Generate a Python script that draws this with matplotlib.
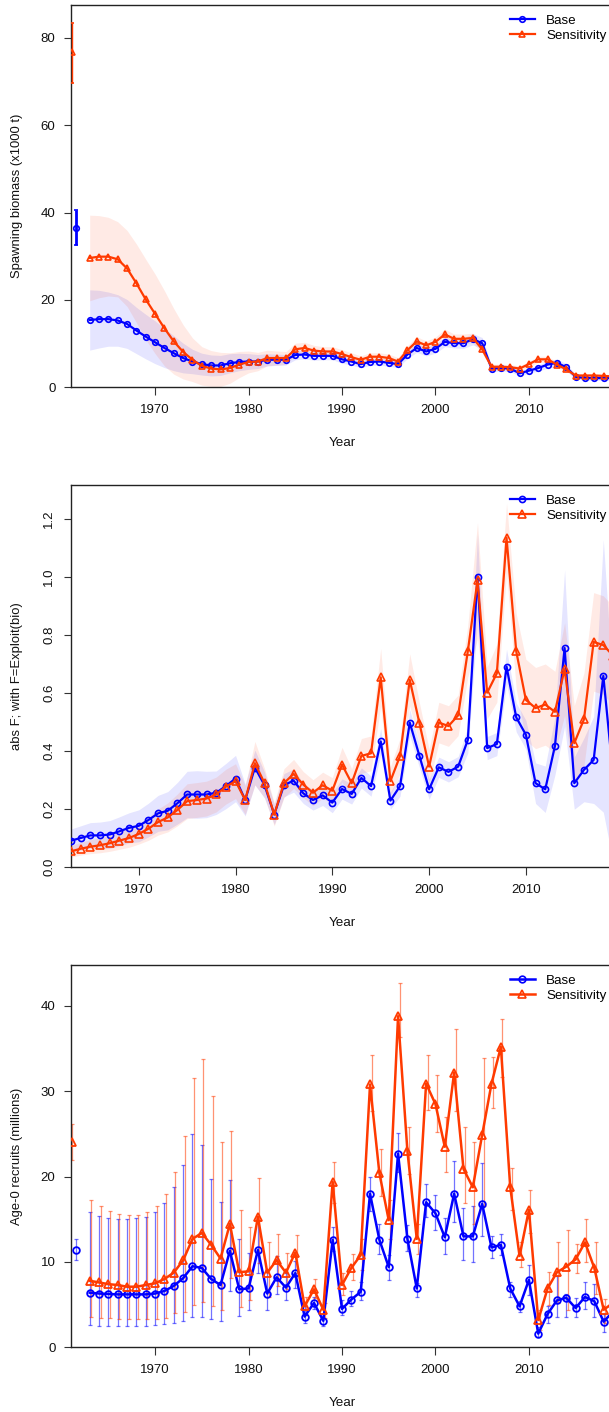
import matplotlib
matplotlib.use("Agg")
import matplotlib.pyplot as plt
from matplotlib.lines import Line2D
import numpy as np

plt.rcParams['font.family'] = ['Liberation Sans', 'DejaVu Sans']

# ---------------- data ----------------
years = list(range(1963, 2020))
virgin_year = 1961

# Spawning biomass (x1000 t)
ssb_base = [15.4, 15.6, 15.6, 15.3, 14.5, 13.0, 11.6, 10.3, 9.0, 7.8,
            6.7, 5.9, 5.3, 5.0, 5.0, 5.5, 5.8, 5.9, 5.9, 6.3,
            6.3, 6.3, 7.4, 7.5, 7.2, 7.2, 7.2, 6.4, 5.9, 5.3,
            5.8, 5.9, 5.6, 5.3, 7.5, 9.0, 8.2, 8.8, 10.4, 10.1,
            10.1, 11.0, 10.1, 4.3, 4.4, 4.3, 3.2, 3.8, 4.4, 5.2,
            5.6, 4.6, 2.4, 2.1, 2.1, 2.1, 2.1]
ssb_sens = [29.6, 29.9, 29.9, 29.3, 27.2, 23.8, 20.1, 16.8, 13.5, 10.5,
            8.1, 6.3, 4.9, 4.3, 4.1, 4.4, 5.2, 5.8, 5.9, 6.7,
            6.7, 6.7, 8.7, 9.0, 8.4, 8.2, 8.2, 7.6, 6.9, 6.3,
            7.0, 7.0, 6.7, 5.9, 8.5, 10.5, 9.6, 10.4, 12.1, 11.1,
            11.1, 11.3, 8.7, 4.7, 4.7, 4.6, 4.3, 5.3, 6.4, 6.4,
            5.2, 4.1, 2.7, 2.7, 2.7, 2.6, 2.5]
ssb_base_hw = [6.9, 6.6, 6.2, 5.9, 5.6, 5.3, 5.1, 4.9, 4.5, 4.0,
               3.4, 2.8, 2.5, 2.4, 2.3, 2.2, 2.0, 1.8, 1.6, 1.4,
               1.3, 1.2, 1.1, 1.0, 1.0, 0.9, 0.9, 0.9, 0.8, 0.8,
               0.8, 0.8, 0.8, 0.8, 0.9, 1.0, 1.0, 1.0, 1.1, 1.1,
               1.2, 1.3, 1.3, 0.7, 0.7, 0.7, 0.6, 0.6, 0.7, 0.8,
               0.9, 0.8, 0.5, 0.5, 0.5, 0.5, 0.5]
ssb_sens_hw = [9.8, 9.4, 9.0, 8.6, 8.7, 9.0, 9.2, 9.1, 8.6, 7.5,
               6.2, 5.0, 4.4, 4.1, 3.9, 3.5, 3.0, 2.5, 2.1, 1.8,
               1.6, 1.5, 1.4, 1.3, 1.2, 1.1, 1.1, 1.0, 1.0, 0.9,
               0.9, 0.9, 0.9, 0.9, 1.0, 1.1, 1.0, 1.1, 1.2, 1.1,
               1.1, 1.1, 0.9, 0.6, 0.6, 0.6, 0.6, 0.6, 0.7, 0.7,
               0.6, 0.5, 0.4, 0.4, 0.4, 0.4, 0.4]
ssb_virgin = [36.5, 76.7]
ssb_virgin_lo = [32.6, 69.7]
ssb_virgin_hi = [40.6, 83.4]

# Fishing mortality
f_base = [0.092, 0.101, 0.110, 0.110, 0.113, 0.124, 0.136, 0.143, 0.163, 0.186,
          0.195, 0.221, 0.251, 0.251, 0.251, 0.257, 0.280, 0.306, 0.232, 0.344,
          0.283, 0.182, 0.283, 0.299, 0.255, 0.232, 0.248, 0.223, 0.270, 0.253,
          0.308, 0.280, 0.434, 0.230, 0.280, 0.499, 0.384, 0.269, 0.345, 0.329,
          0.347, 0.439, 1.002, 0.411, 0.425, 0.692, 0.517, 0.457, 0.290, 0.269,
          0.418, 0.756, 0.290, 0.336, 0.370, 0.660, 0.320]
f_sens = [0.055, 0.064, 0.071, 0.076, 0.083, 0.092, 0.101, 0.115, 0.133, 0.156,
          0.172, 0.198, 0.228, 0.232, 0.237, 0.251, 0.278, 0.297, 0.232, 0.359,
          0.290, 0.182, 0.290, 0.322, 0.285, 0.257, 0.283, 0.264, 0.354, 0.290,
          0.384, 0.393, 0.655, 0.297, 0.384, 0.646, 0.497, 0.347, 0.499, 0.487,
          0.524, 0.745, 0.989, 0.602, 0.669, 1.136, 0.745, 0.577, 0.549, 0.561,
          0.536, 0.683, 0.428, 0.510, 0.777, 0.766, 0.730]
f_base_hw = [0.040, 0.042, 0.044, 0.046, 0.048, 0.050, 0.052, 0.055, 0.058, 0.062,
             0.066, 0.072, 0.080, 0.082, 0.080, 0.075, 0.078, 0.080, 0.055, 0.060,
             0.045, 0.035, 0.040, 0.040, 0.035, 0.035, 0.035, 0.035, 0.035, 0.035,
             0.035, 0.035, 0.045, 0.030, 0.035, 0.045, 0.040, 0.035, 0.035, 0.035,
             0.035, 0.045, 0.150, 0.040, 0.040, 0.060, 0.050, 0.050, 0.070, 0.080,
             0.100, 0.270, 0.090, 0.110, 0.150, 0.470, 0.300]
f_sens_hw = [0.020, 0.022, 0.024, 0.026, 0.028, 0.030, 0.032, 0.035, 0.040, 0.045,
             0.050, 0.055, 0.060, 0.060, 0.060, 0.060, 0.060, 0.060, 0.050, 0.075,
             0.050, 0.040, 0.050, 0.050, 0.045, 0.045, 0.045, 0.045, 0.060, 0.050,
             0.060, 0.060, 0.100, 0.050, 0.060, 0.090, 0.070, 0.060, 0.070, 0.070,
             0.070, 0.090, 0.200, 0.090, 0.100, 0.120, 0.130, 0.140, 0.140, 0.140,
             0.140, 0.160, 0.130, 0.160, 0.170, 0.170, 0.170]

# Age-0 recruits (millions)
rec_base = [6.4, 6.3, 6.25, 6.2, 6.2, 6.2, 6.2, 6.3, 6.6, 7.2,
            8.1, 9.5, 9.3, 8.0, 7.3, 11.3, 6.8, 6.9, 11.4, 6.3,
            8.2, 7.0, 8.7, 3.6, 5.2, 3.1, 12.6, 4.5, 5.6, 6.5,
            18.0, 12.6, 9.4, 22.7, 12.7, 6.9, 17.0, 15.7, 12.9, 18.0,
            13.0, 13.0, 16.8, 11.7, 12.0, 6.9, 4.8, 7.9, 1.6, 3.9,
            5.5, 5.8, 4.6, 5.9, 5.4, 3.0, 4.2]
rec_base_lo = [2.6, 2.5, 2.5, 2.5, 2.5, 2.5, 2.5, 2.6, 2.7, 2.9,
               3.1, 3.6, 3.6, 3.3, 3.1, 6.6, 3.7, 4.4, 8.7, 4.4,
               6.25, 5.5, 7.0, 2.9, 4.45, 2.5, 11.25, 3.75, 4.8, 5.5,
               16.0, 10.9, 7.9, 20.5, 11.25, 5.9, 15.3, 13.75, 10.9, 14.7,
               10.2, 10.0, 13.0, 10.5, 10.8, 5.9, 4.1, 6.1, 1.2, 2.8,
               3.6, 3.6, 3.6, 4.5, 3.6, 1.8, 3.0]
rec_base_hi = [15.8, 15.4, 15.2, 15.0, 15.0, 15.1, 15.3, 15.9, 16.9, 18.8,
               21.4, 25.0, 23.7, 19.7, 17.0, 19.6, 12.7, 11.1, 14.8, 9.1,
               10.7, 8.75, 10.1, 4.8, 5.9, 3.9, 14.1, 5.5, 6.6, 7.7,
               20.0, 14.4, 10.8, 25.1, 14.3, 7.5, 19.1, 17.8, 15.2, 21.8,
               16.3, 16.6, 21.6, 13.0, 13.3, 7.7, 5.4, 9.7, 2.4, 4.8,
               8.3, 6.3, 5.8, 7.7, 7.4, 3.9, 5.8]
rec_sens = [7.8, 7.6, 7.4, 7.3, 7.1, 7.1, 7.3, 7.5, 8.0, 8.75,
            10.2, 12.7, 13.4, 12.0, 10.4, 14.45, 8.8, 8.9, 15.3, 8.75,
            10.2, 8.75, 11.1, 4.8, 6.8, 4.4, 19.4, 7.3, 9.3, 10.8,
            30.8, 20.4, 14.9, 38.8, 23.0, 12.7, 30.9, 28.5, 23.5, 32.2,
            20.9, 18.75, 24.9, 30.9, 35.2, 18.8, 10.7, 16.1, 3.2, 6.9,
            8.8, 9.45, 10.3, 12.3, 9.3, 4.4, 5.2]
rec_sens_lo = [3.5, 3.4, 3.4, 3.3, 3.3, 3.3, 3.3, 3.3, 3.4, 4.0,
               4.1, 5.0, 5.3, 4.8, 4.4, 8.1, 4.7, 5.5, 9.9, 5.9,
               7.2, 6.8, 8.7, 3.75, 5.8, 3.4, 16.9, 6.1, 7.9, 9.1,
               27.7, 17.7, 12.7, 36.4, 20.3, 10.9, 27.8, 25.2, 20.6, 27.7,
               16.9, 14.5, 16.5, 28.0, 31.7, 16.1, 9.4, 13.4, 2.0, 4.9,
               5.2, 4.4, 8.7, 10.0, 6.3, 2.8, 3.8]
rec_sens_hi = [17.3, 16.6, 16.0, 15.6, 15.5, 15.5, 15.8, 16.5, 18.0, 20.5,
               24.8, 31.6, 33.8, 29.5, 24.0, 25.4, 16.1, 14.1, 19.8, 12.3,
               13.3, 11.0, 13.2, 5.9, 8.0, 5.2, 21.7, 8.7, 10.9, 12.7,
               34.2, 23.2, 17.3, 42.7, 25.8, 14.5, 34.2, 31.9, 27.0, 37.3,
               25.8, 24.1, 33.9, 34.0, 38.5, 21.0, 12.3, 18.4, 4.4, 8.8,
               12.3, 13.8, 12.1, 15.0, 12.3, 5.7, 7.0]
rec_virgin = [11.4, 24.0]
rec_virgin_lo = [10.2, 21.95]
rec_virgin_hi = [12.7, 26.2]

series_names = ["Base", "Sensitivity"]
xticks = [1970, 1980, 1990, 2000, 2010]

# ---------------- style ----------------
BLUE = "#0000FF"
RED = "#FF3A00"
MARK = ["o", "^"]
COLS = [BLUE, RED]
VSHIFT = [0.55, 0.15]      # horizontal offset of the virgin points
BAR_SHIFT = [0.0, 0.16]    # offset of recruit error bars

W, H = 609, 1412
fig = plt.figure(figsize=(W / 100, H / 100), dpi=100)
fig.patch.set_facecolor("white")


def add_axes_px(left, top, right, bottom):
    return fig.add_axes([left / W, 1 - bottom / H, (right - left) / W, (bottom - top) / H])


def style(ax, xlim, ylim, yticks, yfmt, rotate=False):
    ax.set_xlim(*xlim)
    ax.set_ylim(*ylim)
    ax.set_xticks(xticks)
    ax.set_xticklabels([str(t) for t in xticks])
    ax.set_yticks(yticks)
    ax.set_yticklabels([yfmt.format(t) for t in yticks])
    for s in ax.spines.values():
        s.set_linewidth(1.0)
        s.set_color("#222222")
    ax.tick_params(direction="out", length=5.4, width=0.8, labelsize=9.5,
                   color="#333333", labelcolor="#111111")
    ax.tick_params(axis="x", pad=6.4)
    ax.tick_params(axis="y", pad=5.8)
    if rotate:
        for lab in ax.get_yticklabels():
            lab.set_rotation(90)
            lab.set_va("center")


def legend(ax, top_px, ms_c, ms_t, lw):
    handles = [Line2D([], [], color=COLS[i], marker=MARK[i], mfc="none",
                      ms=[ms_c, ms_t][i], mew=1.2, lw=lw) for i in range(2)]
    ax.legend(handles, series_names, loc="upper left",
              bbox_to_anchor=(510 / W, 1 - top_px / H), bbox_transform=fig.transFigure,
              frameon=False, fontsize=9.6, handlelength=1.85, handletextpad=0.85,
              labelspacing=0.2, borderpad=0, borderaxespad=0)


def text_labels(ylabel, ycenter_px, year_y_px):
    fig.text(17 / W, 1 - ycenter_px / H, ylabel, rotation=90, ha="center", va="center",
             fontsize=9.4, color="#111111")
    fig.text(342 / W, 1 - year_y_px / H, "Year", ha="center", va="center",
             fontsize=9.6, color="#111111")


yrs = np.array(years)

# ---------------- Panel 1: spawning biomass ----------------
ax1 = add_axes_px(71, 5, 613, 387.3)
vals = [np.array(ssb_base), np.array(ssb_sens)]
hws = [np.array(ssb_base_hw), np.array(ssb_sens_hw)]
for i in range(2):
    ax1.fill_between(yrs, vals[i] - hws[i], vals[i] + hws[i], color=COLS[i],
                     alpha=0.1, lw=0, zorder=1)
for i in range(2):
    ax1.plot(yrs, vals[i], color=COLS[i], marker=MARK[i], mfc="none",
             ms=[4.0, 5.0][i], mew=1.2, lw=1.6, zorder=3 + i)
    xv = virgin_year + VSHIFT[i]
    ax1.errorbar([xv], [ssb_virgin[i]],
                 yerr=[[ssb_virgin[i] - ssb_virgin_lo[i]], [ssb_virgin_hi[i] - ssb_virgin[i]]],
                 fmt=MARK[i], color=COLS[i], mfc="none", ms=[4.0, 5.0][i], mew=1.2,
                 elinewidth=[2.0, 1.0][i], capsize=1.5, capthick=1.0, zorder=3 + i)
style(ax1, (1961, 2019), (0, 87.5), [0, 20, 40, 60, 80], "{:d}")
legend(ax1, 14.4, 4.0, 5.0, 1.6)
text_labels("Spawning biomass (x1000 t)", 196, 443)

# ---------------- Panel 2: F ----------------
ax2 = add_axes_px(71, 485, 613, 867.3)
vals = [np.array(f_base), np.array(f_sens)]
hws = [np.array(f_base_hw), np.array(f_sens_hw)]
for i in range(2):
    ax2.fill_between(yrs, vals[i] - hws[i], vals[i] + hws[i], color=COLS[i],
                     alpha=0.1, lw=0, zorder=1)
for i in range(2):
    ax2.plot(yrs, vals[i], color=COLS[i], marker=MARK[i], mfc="none",
             ms=[4.4, 5.8][i], mew=1.2, lw=1.6, zorder=3 + i)
style(ax2, (1963, 2019), (0, 1.318), [0.0, 0.2, 0.4, 0.6, 0.8, 1.0, 1.2], "{:.1f}", rotate=True)
legend(ax2, 494.4, 4.4, 5.8, 1.6)
text_labels("abs F; with F=Exploit(bio)", 676, 923)

# ---------------- Panel 3: recruits ----------------
ax3 = add_axes_px(71, 965, 613, 1347.3)
vals = [np.array(rec_base), np.array(rec_sens)]
los = [np.array(rec_base_lo), np.array(rec_sens_lo)]
his = [np.array(rec_base_hi), np.array(rec_sens_hi)]
for i in range(2):
    ax3.errorbar(yrs + BAR_SHIFT[i], vals[i], yerr=[vals[i] - los[i], his[i] - vals[i]],
                 fmt="none", ecolor=COLS[i], alpha=0.55, elinewidth=0.9,
                 capsize=1.1, capthick=0.9, zorder=2)
    xv = virgin_year + VSHIFT[i]
    ax3.errorbar([xv], [rec_virgin[i]],
                 yerr=[[rec_virgin[i] - rec_virgin_lo[i]], [rec_virgin_hi[i] - rec_virgin[i]]],
                 fmt="none", ecolor=COLS[i], alpha=0.55, elinewidth=0.9,
                 capsize=1.1, capthick=0.9, zorder=2)
for i in range(2):
    ax3.plot(yrs, vals[i], color=COLS[i], marker=MARK[i], mfc="none",
             ms=[4.8, 5.8][i], mew=1.3, lw=1.8, zorder=3 + i)
    ax3.plot([virgin_year + VSHIFT[i]], [rec_virgin[i]], color=COLS[i], marker=MARK[i],
             mfc="none", ms=[4.8, 5.8][i], mew=1.3, lw=0, zorder=3 + i)
style(ax3, (1961, 2019), (0, 44.8), [0, 10, 20, 30, 40], "{:d}")
legend(ax3, 974.4, 4.8, 5.8, 1.8)
text_labels("Age-0 recruits (millions)", 1156, 1403)

fig.savefig("out.png", dpi=100)
